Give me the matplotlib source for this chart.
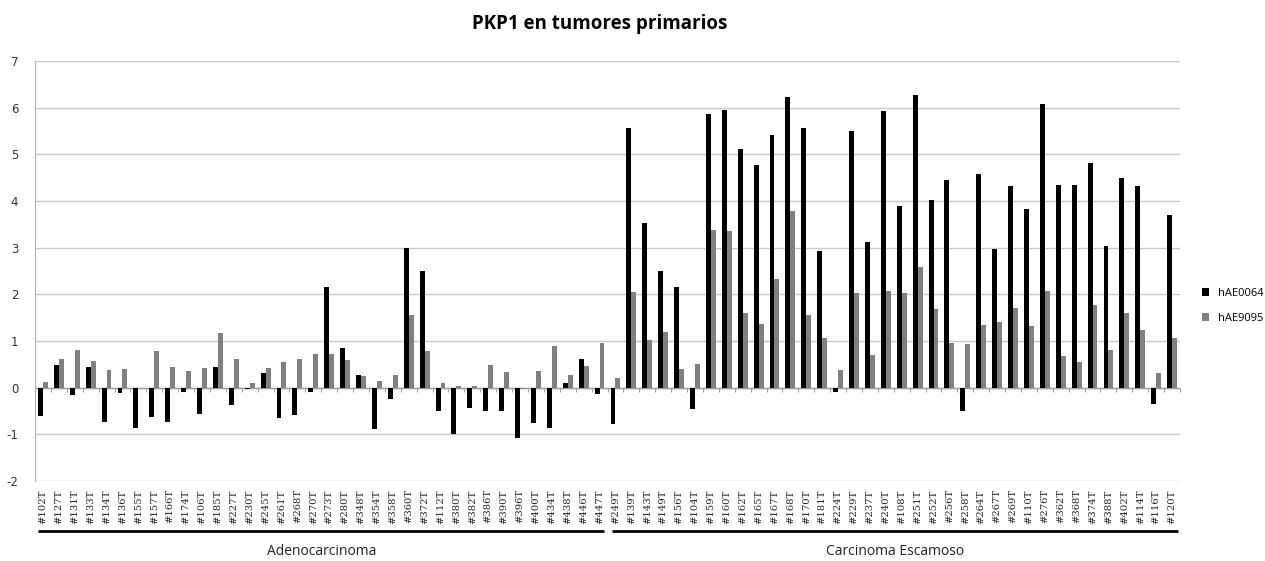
import numpy as np
import matplotlib.pyplot as plt
from matplotlib.transforms import blended_transform_factory

plt.rcParams["axes.unicode_minus"] = False

# muestras por grupo histologico
adeno = ["#102T", "#127T", "#131T", "#133T", "#134T", "#136T", "#155T", "#157T", "#166T",
         "#174T", "#106T", "#185T", "#227T", "#230T", "#245T", "#261T", "#268T", "#270T",
         "#273T", "#280T", "#348T", "#354T", "#358T", "#360T", "#372T", "#112T", "#380T",
         "#382T", "#386T", "#390T", "#396T", "#400T", "#434T", "#438T", "#446T", "#447T"]
escamoso = ["#249T", "#139T", "#143T", "#149T", "#156T", "#104T", "#159T", "#160T", "#162T",
            "#165T", "#167T", "#168T", "#170T", "#181T", "#224T", "#229T", "#237T", "#240T",
            "#108T", "#251T", "#252T", "#256T", "#258T", "#264T", "#267T", "#269T", "#110T",
            "#276T", "#362T", "#368T", "#374T", "#388T", "#402T", "#114T", "#116T", "#120T"]

hAE0064_adeno = [-0.61, 0.48, -0.16, 0.44, -0.74, -0.12, -0.86, -0.63, -0.74,
                 -0.10, -0.57, 0.44, -0.37, -0.02, 0.32, -0.64, -0.59, -0.10,
                 2.15, 0.86, 0.27, -0.89, -0.25, 3.00, 2.50, -0.51, -0.99,
                 -0.43, -0.51, -0.50, -1.07, -0.76, -0.87, 0.09, 0.61, -0.13]
hAE9095_adeno = [0.12, 0.61, 0.81, 0.58, 0.38, 0.39, 0.00, 0.79, 0.45,
                 0.36, 0.42, 1.17, 0.62, 0.09, 0.42, 0.56, 0.62, 0.73,
                 0.72, 0.60, 0.24, 0.15, 0.28, 1.55, 0.79, 0.09, 0.04,
                 0.04, 0.49, 0.34, -0.03, 0.35, 0.89, 0.28, 0.46, 0.95]
hAE0064_esc = [-0.77, 5.57, 3.52, 2.50, 2.15, -0.46, 5.86, 5.96, 5.11,
               4.78, 5.41, 6.23, 5.57, 2.92, -0.09, 5.51, 3.13, 5.93,
               3.89, 6.28, 4.02, 4.46, -0.49, 4.57, 2.97, 4.32, 3.82,
               6.08, 4.34, 4.34, 4.81, 3.03, 4.49, 4.33, -0.35, 3.69]
hAE9095_esc = [0.21, 2.05, 1.03, 1.19, 0.39, 0.51, 3.37, 3.36, 1.60,
               1.36, 2.33, 3.78, 1.55, 1.07, 0.38, 2.03, 0.71, 2.07,
               2.03, 2.58, 1.68, 0.96, 0.93, 1.35, 1.41, 1.70, 1.32,
               2.08, 0.67, 0.55, 1.78, 0.81, 1.60, 1.23, 0.31, 1.07]

labels = adeno + escamoso
serie1 = np.array(hAE0064_adeno + hAE0064_esc)
serie2 = np.array(hAE9095_adeno + hAE9095_esc)
x = np.arange(len(labels))

fig = plt.figure(figsize=(12.65, 5.61), dpi=100)
ax = fig.add_axes([35 / 1265, 80 / 561, 1145 / 1265, 420 / 561])

w = 0.31
ax.bar(x - w / 2, serie1, width=w, color="#000000", label="hAE0064", zorder=3)
ax.bar(x + w / 2, serie2, width=w, color="#808080", label="hAE9095", zorder=3)

ax.set_xlim(-0.5, len(labels) - 0.5)
ax.set_ylim(-2, 7)
ax.set_yticks(range(-2, 8))
ax.yaxis.grid(True, color="#c8c8c8", linewidth=1.0, zorder=0)
ax.tick_params(axis="y", length=0, labelsize=8.5, pad=12, colors="#333333")
for s in ["top", "right", "bottom"]:
    ax.spines[s].set_visible(False)
ax.spines["left"].set_color("#b0b0b0")

ax.set_xticks(x)
ax.set_xticklabels(labels, rotation=90, fontsize=7.2, family="DejaVu Serif", color="#222222")
ax.tick_params(axis="x", length=0, pad=6)

# eje en cero con marcas entre categorias
ax.axhline(0, color="#a0a0a0", linewidth=1.0, zorder=2)
sec = ax.secondary_xaxis(2 / 9)
sec.set_xticks(np.arange(len(labels) + 1) - 0.5)
sec.set_xticklabels([])
sec.tick_params(axis="x", direction="out", length=3, color="#a0a0a0")
sec.spines["bottom"].set_visible(False)

# lineas de grupo bajo las etiquetas
tr = blended_transform_factory(ax.transData, ax.transAxes)
grupos = [("Adenocarcinoma", -0.3, len(adeno) - 0.7),
          ("Carcinoma Escamoso", len(adeno) - 0.2, len(labels) - 0.6)]
for nombre, x0, x1 in grupos:
    ax.plot([x0, x1], [-0.119, -0.119], transform=tr, color="black", linewidth=2,
            clip_on=False, solid_capstyle="butt")
    ax.text((x0 + x1) / 2, -0.168, nombre, transform=tr, ha="center", va="center",
            fontsize=10, family="Open Sans", color="#222222")

fig.text(0.474, 0.958, "PKP1 en tumores primarios", ha="center", va="center",
         fontsize=13.5, fontweight="bold", family="Open Sans")

fig.legend(loc="center left", bbox_to_anchor=(0.942, 0.455), frameon=False,
           handlelength=0.7, handleheight=0.7, labelspacing=1.3,
           prop={"family": "Open Sans", "size": 8})

fig.savefig("out.png", dpi=100)
